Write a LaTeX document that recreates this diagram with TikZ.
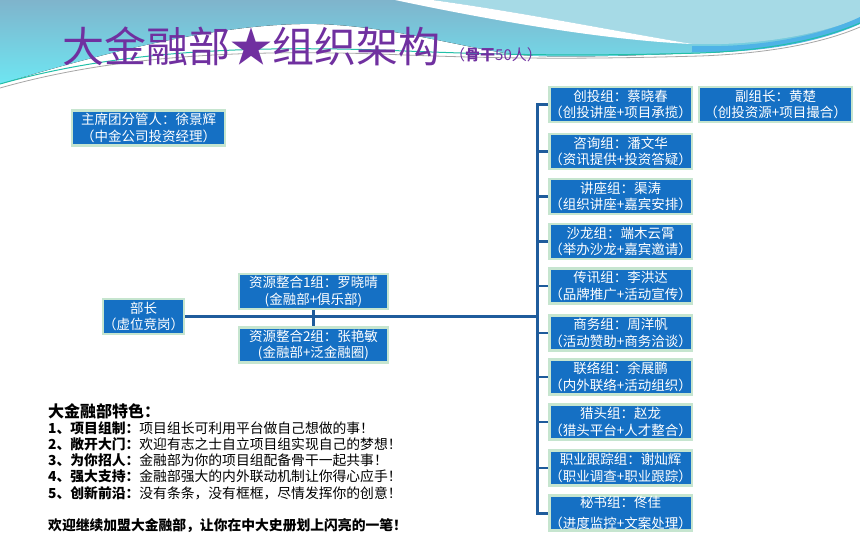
\documentclass[tikz,border=0pt]{standalone}
\usepackage{fontspec}
\setmainfont{Noto Sans CJK SC}
\usetikzlibrary{shapes}
\definecolor{boxblue}{HTML}{1570C4}
\definecolor{boxedge}{HTML}{C6E5CF}
\definecolor{linkblue}{HTML}{1F5C9C}
\definecolor{titlepurple}{HTML}{7030A0}
\definecolor{skytop}{HTML}{7FB4CC}
\definecolor{skylow}{HTML}{6EE6F2}
\definecolor{skylight}{HTML}{A6DAE6}
\definecolor{ribbon}{HTML}{4FB3E6}
\definecolor{wave}{HTML}{22C0A8}

\begin{document}
\begin{tikzpicture}[x=1pt,y=-1pt,
  box/.style={shape=rectangle,draw=boxedge,fill=boxblue,text=white,align=center,line width=2.5pt,inner sep=0pt,minimum height=35pt,font=\fontsize{13.5}{16.5}\selectfont},
  link/.style={draw=linkblue,line width=3pt}]
\useasboundingbox[fill=white] (0,0) rectangle (860,549);
\fill[top color=skytop,bottom color=skylow] (0,0) -- (860,0) -- (860,22) .. controls (800,40) and (760,52) .. (700,53) .. controls (620,56) and (560,58) .. (520,55) .. controls (470,50) and (380,22) .. (300,24) .. controls (200,26) and (80,60) .. (0,84) -- cycle;
\fill[skylight] (432,0) .. controls (520,12) and (620,32) .. (692,44) .. controls (760,46) and (820,34) .. (860,18) -- (860,0) -- cycle;
\fill[white] (395,0) -- (432,0) .. controls (520,12) and (620,32) .. (692,44) .. controls (600,40) and (480,18) .. (395,0) -- cycle;
\fill[ribbon] (692,46) .. controls (760,48) and (820,36) .. (860,17) -- (860,24) .. controls (820,42) and (760,54) .. (692,52) -- cycle;
\draw[wave,line width=1pt] (0,84) .. controls (120,50) and (250,46) .. (380,50) .. controls (480,54) and (560,57) .. (700,53) .. controls (780,50) and (830,36) .. (860,23);
\draw[gray!70,line width=0.8pt] (0,88) .. controls (120,54) and (250,50) .. (380,54) .. controls (480,58) and (560,60) .. (700,56) .. controls (780,53) and (830,40) .. (860,27);

\node[text=titlepurple,font=\fontsize{42}{42}\selectfont,inner sep=0pt,anchor=west] (15) at (62,46) {大金融部★组织架构};
\node[text=titlepurple,font=\fontsize{15}{15}\selectfont,inner sep=0pt,anchor=west] (16) at (450,55) {（\textbf{骨干}50人）};

\node[box,minimum width=153pt] (0) at (148.5,128) {主席团分管人：徐景辉\\（中金公司投资经理）};
\node[box,minimum width=81pt] (1) at (143.5,316.5) {部长\\（虚位竞岗）};
\node[box,minimum width=149pt] (2) at (313.5,291.5) {资源整合1组：罗晓晴\\(金融部+俱乐部)};
\node[box,minimum width=149pt] (3) at (313.5,345) {资源整合2组：张艳敏\\(金融部+泛金融圈)};
\node[box,minimum width=141pt] (4) at (620.5,104.5) {创投组：蔡晓春\\（创投讲座+项目承揽）};
\node[box,minimum width=141pt] (5) at (620.5,151.5) {咨询组：潘文华\\（资讯提供+投资答疑）};
\node[box,minimum width=141pt] (6) at (620.5,196.5) {讲座组：渠涛\\（组织讲座+嘉宾安排）};
\node[box,minimum width=141pt] (7) at (620.5,241.5) {沙龙组：端木云霄\\（举办沙龙+嘉宾邀请）};
\node[box,minimum width=141pt] (8) at (620.5,286) {传讯组：李洪达\\（品牌推广+活动宣传）};
\node[box,minimum width=141pt] (9) at (620.5,333) {商务组：周洋帆\\（活动赞助+商务洽谈）};
\node[box,minimum width=141pt] (10) at (620.5,377) {联络组：余展鹏\\（内外联络+活动组织）};
\node[box,minimum width=141pt] (11) at (620.5,422) {猎头组：赵龙\\（猎头平台+人才整合）};
\node[box,minimum width=141pt] (12) at (620.5,468) {职业跟踪组：谢灿辉\\（职业调查+职业跟踪）};
\node[box,minimum width=141pt] (13) at (620.5,513) {秘书组：佟佳\\[4pt]（进度监控+文案处理）};
\node[box,minimum width=153pt] (14) at (775.5,104.5) {副组长：黄楚\\（创投资源+项目撮合）};

\coordinate (hub) at (538,316.5);
\draw[link] (4.west) -- ++(-11,0) |- (13.west);
\foreach \k in {5,...,12}
  \draw[link,line width=2.5pt] (\k.west) -- ++(-11,0);
\draw[link] (1.east) -- (hub);
\draw[link,line width=2.5pt] (2.south) -- (3.north);

\node[inner sep=0pt,anchor=north west,align=left,font=\fontsize{13.8}{16.2}\selectfont] (17) at (48,403) {{\fontsize{16}{16}\selectfont\textbf{大金融部特色：}}\\
\textbf{1、项目组制：}项目组长可利用平台做自己想做的事！\\
\textbf{2、敞开大门：}欢迎有志之士自立项目组实现自己的梦想！\\
\textbf{3、为你招人：}金融部为你的项目组配备骨干一起共事！\\
\textbf{4、强大支持：}金融部强大的内外联动机制让你得心应手！\\
\textbf{5、创新前沿：}没有条条，没有框框，尽情发挥你的创意！\\[16.2pt]
\textbf{欢迎继续加盟大金融部，让你在中大史册划上闪亮的一笔！}};
\end{tikzpicture}
\end{document}
